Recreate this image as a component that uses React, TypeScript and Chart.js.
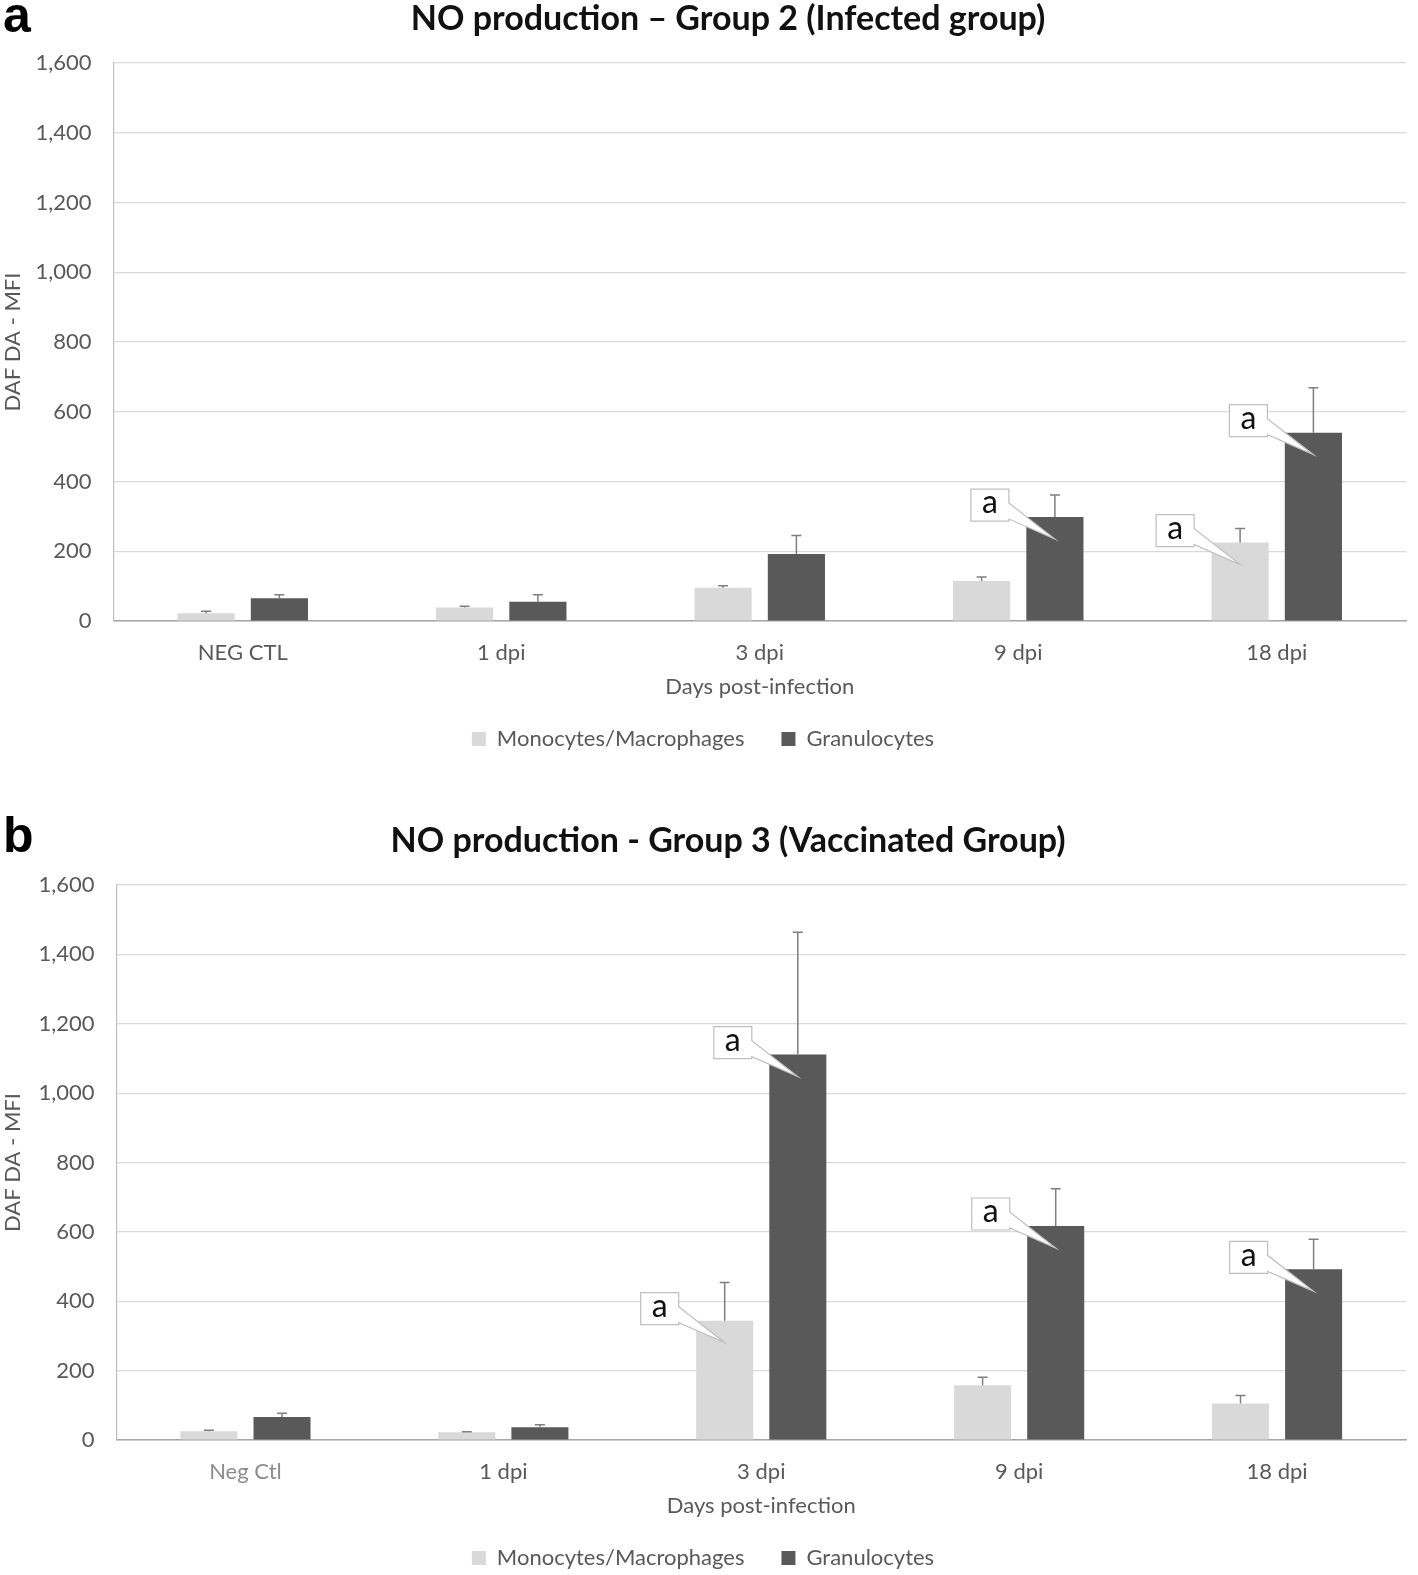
import React, { useEffect, useRef } from "react";
import { Chart, registerables } from "chart.js";

Chart.register(...registerables);

// ---------- data ----------
const seriesNames = ["Monocytes/Macrophages", "Granulocytes"];

const titleA = "NO production – Group 2 (Infected group)";
const categoriesA = ["NEG CTL", "1 dpi", "3 dpi", "9 dpi", "18 dpi"];
const monoA = [22, 39, 95, 115, 225];
const monoErrA = [6, 3, 6, 11, 40];
const granA = [65, 55, 192, 298, 540];
const granErrA = [10, 20, 53, 63, 129];
const monoMarksA = ["", "", "", "", "a"];
const granMarksA = ["", "", "", "a", "a"];

const titleB = "NO production - Group 3 (Vaccinated Group)";
const categoriesB = ["Neg Ctl", "1 dpi", "3 dpi", "9 dpi", "18 dpi"];
const monoB = [25, 22, 344, 158, 105];
const monoErrB = [3, 2, 110, 23, 23];
const granB = [66, 37, 1111, 617, 492];
const granErrB = [11, 7, 353, 107, 87];
const monoMarksB = ["", "", "a", "", ""];
const granMarksB = ["", "", "a", "a", "a"];

const yMin = 0;
const yMax = 1600;
const yStep = 200;
const xTitle = "Days post-infection";
const yTitle = "DAF DA - MFI";

const FONT = "Lato, 'Open Sans', sans-serif";
const MONO_COLOR = "#d9d9d9";
const GRAN_COLOR = "#595959";
const TEXT_COLOR = "#595959";
const FS = 22;

// error bars + callout labels
const overlayPlugin = {
  id: "overlay",
  afterDatasetsDraw(chart: any) {
    const ctx = chart.ctx;
    const yScale = chart.scales.y;
    chart.data.datasets.forEach((ds: any, di: number) => {
      const meta = chart.getDatasetMeta(di);
      meta.data.forEach((bar: any, i: number) => {
        const err = ds.errors[i];
        const top = yScale.getPixelForValue(ds.data[i] + err);
        ctx.save();
        ctx.strokeStyle = "#7f7f7f";
        ctx.lineWidth = 1.5;
        ctx.beginPath();
        ctx.moveTo(bar.x, bar.y);
        ctx.lineTo(bar.x, top);
        ctx.moveTo(bar.x - 5, top);
        ctx.lineTo(bar.x + 5, top);
        ctx.stroke();
        ctx.restore();
      });
    });
    chart.data.datasets.forEach((ds: any, di: number) => {
      const meta = chart.getDatasetMeta(di);
      meta.data.forEach((bar: any, i: number) => {
        const mark = ds.marks[i];
        if (!mark) return;
        const w = 38;
        const h = 32;
        const right = bar.x - 46;
        const left = right - w;
        const top = bar.y - 12 - h / 2;
        const bottom = top + h;
        const tipX = bar.x;
        const tipY = bar.y + 22;
        ctx.save();
        ctx.beginPath();
        ctx.moveTo(left, top);
        ctx.lineTo(right, top);
        ctx.lineTo(right, top + 14);
        ctx.lineTo(tipX, tipY);
        ctx.lineTo(right, bottom - 2);
        ctx.lineTo(right, bottom);
        ctx.lineTo(left, bottom);
        ctx.closePath();
        ctx.fillStyle = "#ffffff";
        ctx.fill();
        ctx.strokeStyle = "#bfbfbf";
        ctx.lineWidth = 1.2;
        ctx.stroke();
        ctx.fillStyle = "#111111";
        ctx.font = `32px ${FONT}`;
        ctx.textAlign = "center";
        ctx.textBaseline = "middle";
        ctx.fillText(mark, (left + right) / 2, (top + bottom) / 2 - 2);
        ctx.restore();
      });
    });
  },
};

type PanelProps = {
  categories: string[];
  mono: number[];
  monoErr: number[];
  gran: number[];
  granErr: number[];
  monoMarks: string[];
  granMarks: string[];
  height: number;
  leftWidth: number;
  bottomPad: number;
  topPad: number;
  firstTickColor: string;
};

function Panel(p: PanelProps) {
  const ref = useRef<HTMLCanvasElement>(null);
  useEffect(() => {
    const chart = new Chart(ref.current!, {
      type: "bar",
      data: {
        labels: p.categories,
        datasets: [
          {
            label: seriesNames[0],
            data: p.mono,
            backgroundColor: MONO_COLOR,
            categoryPercentage: 0.567,
            barPercentage: 0.78,
            errors: p.monoErr,
            marks: p.monoMarks,
          } as any,
          {
            label: seriesNames[1],
            data: p.gran,
            backgroundColor: GRAN_COLOR,
            categoryPercentage: 0.567,
            barPercentage: 0.78,
            errors: p.granErr,
            marks: p.granMarks,
          } as any,
        ],
      },
      options: {
        responsive: false,
        animation: false,
        layout: { padding: { left: 0, right: 12, top: p.topPad, bottom: p.bottomPad } },
        plugins: {
          title: { display: false },
          legend: {
            position: "bottom",
            labels: {
              color: TEXT_COLOR,
              font: { family: FONT, size: FS },
              boxWidth: 14,
              boxHeight: 14,
              padding: 37,
            },
          },
          tooltip: { enabled: false },
        },
        scales: {
          x: {
            grid: { display: false, drawTicks: false },
            border: { display: true, color: "#a6a6a6", width: 1.5 },
            ticks: {
              color: (c: any) => (c.index === 0 ? p.firstTickColor : TEXT_COLOR),
              font: { family: FONT, size: FS },
              padding: 19,
            },
            title: {
              display: true,
              text: xTitle,
              color: TEXT_COLOR,
              font: { family: FONT, size: FS },
              padding: { top: 0, bottom: -9.5 },
            },
            afterFit: (scale: any) => {
              scale.height = 70;
            },
          },
          y: {
            min: yMin,
            max: yMax,
            ticks: {
              stepSize: yStep,
              color: TEXT_COLOR,
              font: { family: FONT, size: FS },
              padding: 22,
              callback: (v: any) => Number(v).toLocaleString("en-US"),
            },
            grid: { color: "#d9d9d9", lineWidth: 1.2, drawTicks: false },
            border: { display: true, color: "#bfbfbf", width: 1.2 },
            title: {
              display: true,
              text: yTitle,
              color: TEXT_COLOR,
              font: { family: FONT, size: FS },
              padding: { top: 0, bottom: 0 },
            },
            afterFit: (scale: any) => {
              scale.width = p.leftWidth;
            },
          },
        },
      },
      plugins: [overlayPlugin],
    });
    return () => chart.destroy();
  }, []);
  return <canvas ref={ref} width={1418} height={p.height} style={{ display: "block" }} />;
}

const panelLabel: React.CSSProperties = {
  position: "absolute",
  left: 3,
  fontFamily: "'Liberation Sans', Arial, sans-serif",
  fontWeight: "bold",
  fontSize: 50,
  lineHeight: "50px",
  color: "#000",
};

const titleStyle: React.CSSProperties = {
  position: "absolute",
  left: 0,
  width: 1456,
  textAlign: "center",
  fontFamily: FONT,
  fontWeight: "bold",
  fontSize: 34,
  lineHeight: "34px",
  color: "#111111",
  whiteSpace: "nowrap",
};

export default function App() {
  useEffect(() => {
    document.body.style.margin = "0";
    document.body.style.overflow = "hidden";
  }, []);
  return (
    <div style={{ position: "relative", width: 1418, height: 1575, overflow: "hidden", background: "#fff" }}>
      <div style={{ position: "absolute", left: 0, top: 0 }}>
        <Panel
          categories={categoriesA}
          mono={monoA}
          monoErr={monoErrA}
          gran={granA}
          granErr={granErrA}
          monoMarks={monoMarksA}
          granMarks={granMarksA}
          height={772}
          leftWidth={113.5}
          bottomPad={12}
          topPad={63}
          firstTickColor={TEXT_COLOR}
        />
      </div>
      <div style={{ position: "absolute", left: 0, top: 821 }}>
        <Panel
          categories={categoriesB}
          mono={monoB}
          monoErr={monoErrB}
          gran={granB}
          granErr={granErrB}
          monoMarks={monoMarksB}
          granMarks={granMarksB}
          height={760}
          leftWidth={116.5}
          bottomPad={2}
          topPad={64}
          firstTickColor="#8c8c8c"
        />
      </div>
      <div style={{ ...titleStyle, top: 0 }}>{titleA}</div>
      <div style={{ ...titleStyle, top: 822 }}>{titleB}</div>
      <div style={{ ...panelLabel, top: -10 }}>a</div>
      <div style={{ ...panelLabel, top: 810 }}>b</div>
    </div>
  );
}
